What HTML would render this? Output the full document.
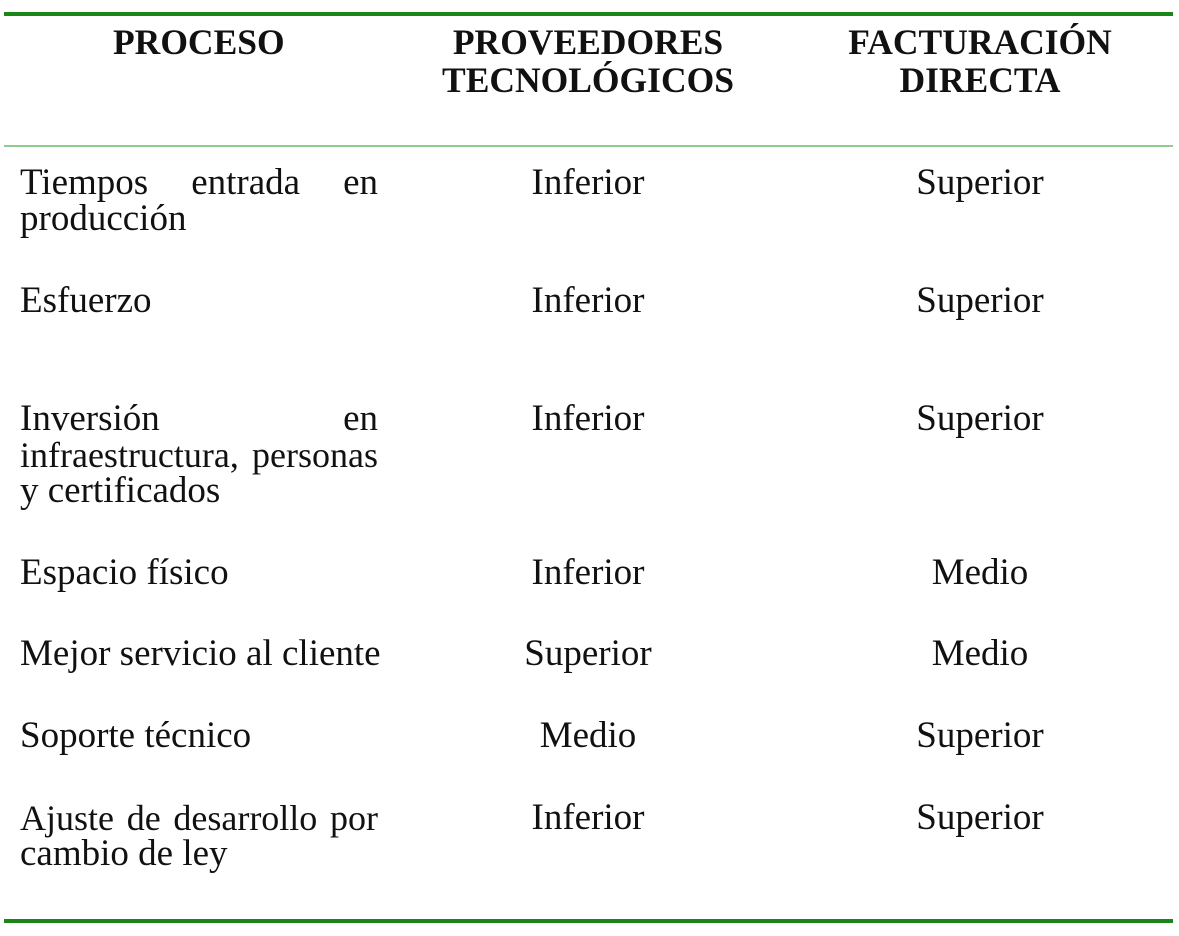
<!DOCTYPE html>
<html><head><meta charset="utf-8"><style>
body{margin:0;width:1179px;height:936px;background:#fff;position:relative;overflow:hidden;font-family:"Liberation Serif",serif;color:#111}
.l{position:absolute;height:36px;line-height:36px;font-size:37px;white-space:nowrap}
.j{display:flex;justify-content:space-between;left:20px;width:358px;gap:5px}
.c2{left:438px;width:300px;text-align:center}
.c3{left:830px;width:300px;text-align:center}
.b{font-weight:bold;font-size:35.5px}
.hr{position:absolute;left:4px;width:1169px}
</style></head><body>
<div class="hr" style="top:12px;height:4px;background:#1a861a"></div>
<div class="hr" style="top:145px;height:2px;background:#8fcd8f"></div>
<div class="hr" style="top:919px;height:4px;background:#1a861a"></div>

<div class="l b" style="left:113px;top:24px">PROCESO</div>
<div class="l b c2" style="top:24px">PROVEEDORES</div>
<div class="l b c2" style="top:62px">TECNOLÓGICOS</div>
<div class="l b c3" style="top:24px">FACTURACIÓN</div>
<div class="l b c3" style="top:62px">DIRECTA</div>

<div class="l j" style="top:165px"><span>Tiempos</span><span>entrada</span><span>en</span></div>
<div class="l" style="left:20px;top:201px">producción</div>
<div class="l c2" style="top:165px">Inferior</div>
<div class="l c3" style="top:165px">Superior</div>

<div class="l" style="left:20px;top:283px">Esfuerzo</div>
<div class="l c2" style="top:283px">Inferior</div>
<div class="l c3" style="top:283px">Superior</div>

<div class="l j" style="top:401px"><span>Inversión</span><span>en</span></div>
<div class="l j" style="top:437px;font-size:36px"><span>infraestructura,</span><span>personas</span></div>
<div class="l" style="left:20px;top:473px">y certificados</div>
<div class="l c2" style="top:401px">Inferior</div>
<div class="l c3" style="top:401px">Superior</div>

<div class="l" style="left:20px;top:555px">Espacio físico</div>
<div class="l c2" style="top:555px">Inferior</div>
<div class="l c3" style="top:555px">Medio</div>

<div class="l" style="left:20px;top:636px">Mejor servicio al cliente</div>
<div class="l c2" style="top:636px">Superior</div>
<div class="l c3" style="top:636px">Medio</div>

<div class="l" style="left:20px;top:718px">Soporte técnico</div>
<div class="l c2" style="top:718px">Medio</div>
<div class="l c3" style="top:718px">Superior</div>

<div class="l j" style="top:800px;font-size:36px"><span>Ajuste</span><span>de</span><span>desarrollo</span><span>por</span></div>
<div class="l" style="left:20px;top:836px">cambio de ley</div>
<div class="l c2" style="top:800px">Inferior</div>
<div class="l c3" style="top:800px">Superior</div>
</body></html>
